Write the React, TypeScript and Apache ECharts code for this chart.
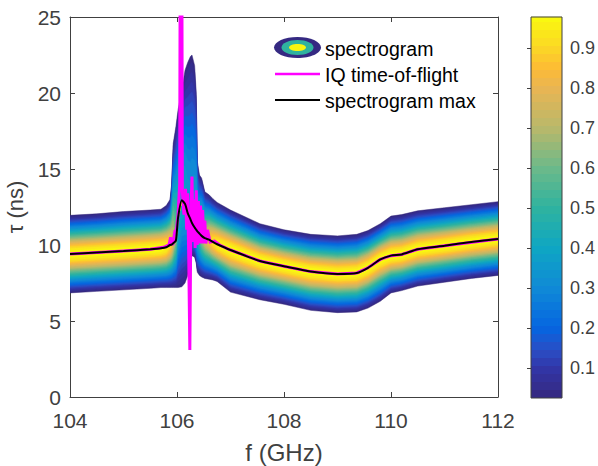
import React, { useEffect, useRef } from "react";
import * as echarts from "echarts";

const fGrid =    [104,104.5,105,105.5,105.7,105.8,105.87,105.9,105.93,105.98,106.02,106.09,106.15,106.2,106.25,106.28,106.33,106.36,106.38,106.42,106.46,106.52,106.6,106.67,106.75,107,107.55,108,108.5,109,109.36,109.57,109.8,110,110.2,110.5,111,111.5,112];
const ridge =    [9.4,9.5,9.6,9.72,9.78,9.85,10,10.03,10.12,10.3,11.8,12.95,12.7,12.1,11.7,11.45,11.15,11,10.9,10.75,10.6,10.45,10.35,10.2,10.05,9.67,8.95,8.6,8.25,8.1,8.16,8.5,9.05,9.3,9.38,9.72,9.95,10.2,10.4];
const upperEdge =[11.95,12.05,12.2,12.3,12.35,12.6,13,14,16.7,17.8,18.9,20.2,21.5,22,22.4,22.5,21.8,20,15.5,14.6,14.4,13.5,13.3,13.05,12.8,12.3,11.4,11,10.7,10.6,10.7,10.95,11.4,11.9,12,12.25,12.45,12.65,12.85];
const lowerEdge =[6.85,6.95,7.05,7.15,7.2,7.2,7.2,7.2,7.2,7.2,7.2,7.25,7.5,8,9.2,9.3,9.2,8.8,8.2,8,7.9,7.8,7.75,7.7,7.6,6.9,6.4,6.1,5.7,5.55,5.6,5.85,6.3,6.85,7,7.3,7.55,7.8,8];
const peakAmp =  [1,1,1,1,1,.98,.92,.85,.75,.62,.48,.42,.4,.38,.38,.4,.42,.46,.5,.6,.7,.8,.88,.94,.98,1,1,1,1,1,1,1,1,1,1,1,1,1,1];

const iqF =   [104,105,105.5,105.75,105.85,105.88,105.92,105.96,105.99,106.02,106.05,106.06,106.09,106.1,106.13,106.16,106.18,106.2,106.22,106.24,106.26,106.28,106.3,106.32,106.34,106.36,106.38,106.4,106.42,106.44,106.46,106.48,106.5,106.52,106.54,106.57,106.62,106.7,106.8,107,107.55,108,108.5,109,109.36,109.57,109.8,110,110.2,110.5,111,112];
const iqTau = [9.4,9.6,9.72,9.85,10,10.5,10,10.9,11,12,14,30,30,13.5,12,13.7,11,13.4,9,3.1,12,14.5,10.2,13,9.8,13.6,10,12.9,10.1,12.6,10.1,12.3,10.1,11.6,10.1,11,10.2,10.25,10,9.67,8.95,8.6,8.25,8.1,8.16,8.5,9.05,9.3,9.38,9.72,9.95,10.4];

const contourLevels = [0.025,0.05,0.075,0.1,0.125,0.15,0.18,0.21,0.24,0.27,0.3,0.34,0.38,0.42,0.46,0.5,0.54,0.58,0.62,0.66,0.7,0.74,0.78,0.82,0.86,0.9,0.94,0.975];
const colorbarSteps = [0.025,0.045,0.065,0.085,0.105,0.125,0.145,0.165,0.185,0.205,0.225,0.245,0.265,0.285,0.305,0.325,0.345,0.365,0.385,0.405,0.425,0.445,0.465,0.485,0.505,0.525,0.545,0.565,0.585,0.605,0.625,0.645,0.665,0.685,0.705,0.725,0.745,0.765,0.785,0.805,0.825,0.845,0.865,0.885,0.905,0.925,0.945,0.965];
const xTicks = [104, 106, 108, 110, 112];
const cbTicks = [0.1,0.2,0.3,0.4,0.5,0.6,0.7,0.8,0.9];
const legendLabels = ["spectrogram", "IQ time-of-flight", "spectrogram max"];

const colorStops: [number, number[]][] = [
  [0.025,[53,40,127]],[0.1,[50,54,168]],[0.145,[42,78,197]],[0.2,[5,101,224]],[0.3,[16,138,214]],[0.4,[14,166,195]],
  [0.5,[47,179,159]],[0.6,[108,185,138]],[0.7,[185,184,106]],[0.8,[233,181,83]],[0.85,[253,187,53]],[0.9,[251,215,37]],[0.978,[249,249,15]],
];
function parulaColor(v: number) {
  let i = 0;
  while (i < colorStops.length - 2 && v > colorStops[i + 1][0]) i++;
  const [v0, c0] = colorStops[i];
  const [v1, c1] = colorStops[i + 1];
  const k = Math.min(1, Math.max(0, (v - v0) / (v1 - v0)));
  const c = c0.map((a, j) => Math.round(a + (c1[j] - a) * k));
  return `rgb(${c[0]},${c[1]},${c[2]})`;
}

function relWidth(level: number, amp: number) {
  if (level >= amp) return 0;
  const s = Math.sqrt(Math.log(level / amp) / Math.log(0.025 / amp));
  return s + 0.9 * s * s * (1 - s);
}

const AXIS = "#404040";
const FONT = "'Liberation Sans', Arial, sans-serif";

export default function App() {
  const ref = useRef<HTMLDivElement>(null);
  useEffect(() => {
    const chart = echarts.init(ref.current!, undefined, { renderer: "svg" });
    const lineStyle = { color: AXIS, width: 1 };
    chart.setOption({
      animation: false,
      backgroundColor: "#fff",
      textStyle: { fontFamily: FONT },
      grid: [
        { left: 70, top: 17, width: 428, height: 380, show: false, outerBoundsMode: "none" },
        { left: 531, top: 8, width: 31, height: 400, show: false, outerBoundsMode: "none" },
      ],
      xAxis: [
        {
          gridIndex: 0, type: "value", min: 104, max: 112, interval: 2, position: "bottom",
          name: "f (GHz)", nameLocation: "middle", nameGap: 43,
          nameTextStyle: { fontSize: 24, color: AXIS, fontFamily: FONT },
          axisLine: { show: true, onZero: false, lineStyle }, axisTick: { inside: true, length: 5, lineStyle },
          axisLabel: { fontSize: 21, color: AXIS, margin: 13, fontFamily: FONT, customValues: xTicks }, splitLine: { show: false },
        },
        {
          gridIndex: 0, type: "value", min: 104, max: 112, interval: 2, position: "top",
          axisLine: { show: true, onZero: false, lineStyle }, axisTick: { inside: true, length: 5, lineStyle },
          axisLabel: { show: false }, splitLine: { show: false },
        },
        { gridIndex: 1, type: "value", min: 0, max: 1, show: false },
      ],
      yAxis: [
        {
          gridIndex: 0, type: "value", min: 0, max: 25, interval: 5, position: "left",
          name: "τ (ns)", nameLocation: "middle", nameGap: 38, nameRotate: 90,
          nameTextStyle: { fontSize: 22, color: AXIS, fontFamily: FONT },
          axisLine: { show: true, onZero: false, lineStyle }, axisTick: { inside: true, length: 5, lineStyle },
          axisLabel: { fontSize: 21, color: AXIS, margin: 9, fontFamily: FONT }, splitLine: { show: false },
        },
        {
          gridIndex: 0, type: "value", min: 0, max: 25, interval: 5, position: "right",
          axisLine: { show: true, onZero: false, lineStyle }, axisTick: { inside: true, length: 5, lineStyle },
          axisLabel: { show: false }, splitLine: { show: false },
        },
        {
          gridIndex: 1, type: "value", min: 0, max: 1, position: "right",
          axisLine: { show: false },
          axisTick: { show: true, inside: true, length: 4, lineStyle, customValues: cbTicks },
          axisLabel: { show: true, fontSize: 18, color: AXIS, margin: 8, fontFamily: FONT, customValues: cbTicks, formatter: (v: number) => v.toFixed(1) },
          splitLine: { show: false },
        },
      ],
      series: [
        {
          type: "custom", name: "spectrogram", xAxisIndex: 0, yAxisIndex: 0, clip: true, z: 1,
          data: contourLevels.map((l) => [l]),
          encode: { x: [], y: [] },
          renderItem: (_p: any, api: any) => {
            const level = api.value(0);
            const top: number[][] = [];
            const bottom: number[][] = [];
            fGrid.forEach((f, i) => {
              const r = relWidth(level, peakAmp[i]);
              top.push(api.coord([f, ridge[i] + r * (upperEdge[i] - ridge[i])]));
              bottom.push(api.coord([f, ridge[i] - r * (ridge[i] - lowerEdge[i])]));
            });
            return {
              type: "polygon",
              shape: { points: top.concat(bottom.reverse()) },
              style: { fill: parulaColor(level), stroke: parulaColor(level), lineWidth: 0.5 },
            };
          },
        },
        {
          type: "line", name: "IQ time-of-flight", xAxisIndex: 0, yAxisIndex: 0, z: 3, showSymbol: false, symbol: "none",
          data: iqF.map((f, i) => [f, iqTau[i]]),
          lineStyle: { color: "#ff00ff", width: 3, join: "miter" },
        },
        {
          type: "line", name: "spectrogram max", xAxisIndex: 0, yAxisIndex: 0, z: 4, showSymbol: false, symbol: "none",
          data: fGrid.map((f, i) => [f, ridge[i]]), smooth: 0.2,
          lineStyle: { color: "#000", width: 2 },
        },
        {
          type: "custom", name: "colorbar", xAxisIndex: 2, yAxisIndex: 2, z: 1, silent: true,
          data: colorbarSteps.map((v) => [v]),
          encode: { x: [], y: [] },
          renderItem: (_p: any, api: any) => {
            const v = api.value(0);
            const a = api.coord([0, v]);
            const b = api.coord([1, Math.min(0.978, v + 0.0205)]);
            return {
              type: "rect",
              shape: { x: a[0], y: b[1], width: b[0] - a[0], height: a[1] - b[1] },
              style: { fill: parulaColor(v + 0.01) },
            };
          },
        },
      ],
      graphic: [
        { type: "rect", z: 50, shape: { x: 531, y: 17, width: 31, height: 381 }, style: { fill: "none", stroke: AXIS, lineWidth: 1 } },
        { type: "ellipse", z: 50, shape: { cx: 297.5, cy: 47.5, rx: 23.5, ry: 10.5 }, style: { fill: parulaColor(0.03) } },
        { type: "ellipse", z: 51, shape: { cx: 297.5, cy: 47.5, rx: 16, ry: 7.5 }, style: { fill: parulaColor(0.5) } },
        { type: "ellipse", z: 52, shape: { cx: 297.5, cy: 47.5, rx: 8.5, ry: 3.5 }, style: { fill: parulaColor(0.97) } },
        { type: "line", z: 50, shape: { x1: 275, y1: 74, x2: 320, y2: 74 }, style: { stroke: "#ff00ff", lineWidth: 2.6 } },
        { type: "line", z: 50, shape: { x1: 275, y1: 100, x2: 320, y2: 100 }, style: { stroke: "#000", lineWidth: 2 } },
        ...legendLabels.map((t, i) => ({
          type: "text", z: 50, x: 325, y: [49, 75, 101][i],
          style: { text: t, fontSize: 19.5, fill: "#000", fontFamily: FONT, verticalAlign: "middle" },
        })),
      ],
    });
    return () => chart.dispose();
  }, []);
  return <div ref={ref} style={{ position: "absolute", left: 0, top: 0, width: 598, height: 466 }} />;
}
